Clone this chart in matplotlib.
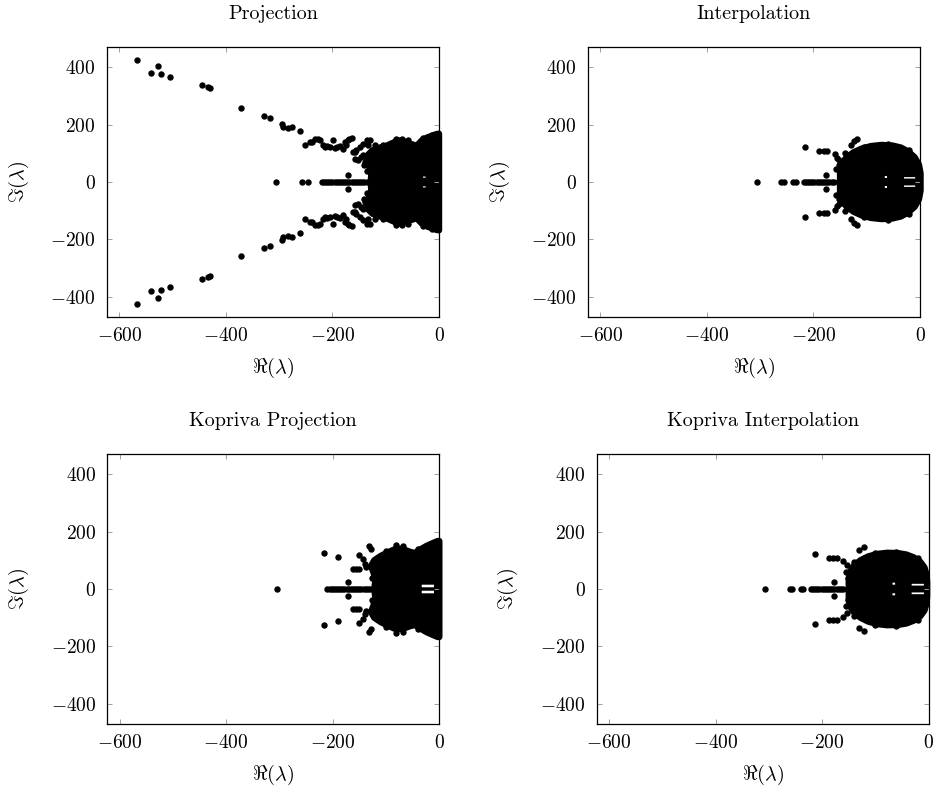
import numpy as np
import matplotlib.pyplot as plt
from matplotlib.path import Path
from matplotlib.patches import PathPatch

plt.rcParams['font.family'] = 'cmr10'
plt.rcParams['mathtext.fontset'] = 'cm'
plt.rcParams['axes.formatter.use_mathtext'] = True

# eigenvalues (upper half plane, conjugates are mirrored)
# --- Projection
proj_re = [-567, -540, -528, -521, -504, -444, -433, -429, -372, -329, -317,
           -295, -292, -283, -275, -261,
           -252, -243, -238, -233, -227, -224, -218, -214, -211, -205, -199,
           -195, -192, -186, -180, -177, -174, -171, -168, -164, -161, -158,
           -158, -155, -152, -149, -146, -143, -142, -139, -136, -133, -130,
           -170, -120, -105, -80, -70, -58, -30, -14, -135, -140]
proj_im = [424, 380, 403, 376, 366, 336, 331, 328, 259, 231, 223,
           201, 192, 188, 190, 177,
           130, 140, 140, 148, 151, 145, 128, 122, 124, 122, 145,
           118, 122, 124, 115, 140, 128, 145, 151, 153, 105, 104,
           81, 110, 76, 122, 87, 93, 134, 70, 145, 128, 145,
           23, 128, 130, 150, 148, 146, 152, 165, 40, 60]
proj_axis = [-305, -258, -245, -220, -216, -212, -208, -204, -200, -196, -192,
             -188, -184, -180, -176, -172, -168, -164, -160, -156, -152, -148,
             -144, -140, -136]
proj_core_re = [-128, -127, -130, -136, -133, -125, -115, -100, -88, -76, -64,
                -52, -42, -32, -22, -12, -4, 0, 0]
proj_core_im = [0, 30, 50, 70, 95, 110, 118, 125, 135, 145, 140,
                132, 126, 145, 155, 162, 167, 168, 0]
proj_gaps = [(-30, -25, 15, 19)]          # empty spots inside the cloud

# --- Interpolation
interp_re = [-215, -189, -180, -174, -160, -157, -152, -176, -130, -124, -119,
             -155, -152, -140, -105, -60, -20]
interp_im = [122, 107, 107, 107, 99, 46, 75, 24, 130, 143, 150,
             85, 60, 100, 122, 132, 110]
interp_axis = [-306, -261, -255, -239, -233, -218, -214, -210, -206, -202, -198,
               -194, -190, -186, -182, -178, -174, -170, -166, -162]
interp_core_re = [-150, -150, -147, -138, -125, -110, -92, -72, -52, -36, -22,
                  -10, -2, 1, 1]
interp_core_im = [0, 40, 65, 85, 103, 116, 125, 129, 127, 120, 106,
                  86, 60, 30, 0]
interp_gaps = [(-30, -9, 12, 17), (-66, -62, 14, 21)]

# --- Kopriva Projection
kproj_re = [-216, -191, -150, -144, -132, -128, -162, -156, -150, -172, -137,
            -81, -68, -140, -126, -125, -100, -40]
kproj_im = [124, 110, 119, 103, 148, 138, 68, 69, 70, 25, 75,
            153, 150, 88, 40, 90, 132, 140]
kproj_axis = [-305, -210, -206, -202, -198, -194, -190, -186, -182, -178, -174,
              -170, -166, -162, -158, -154, -150, -146, -142, -138, -134, -130]
kproj_core_re = [-122, -120, -123, -128, -122, -110, -96, -84, -70, -56, -46,
                 -36, -24, -12, -3, 0, 0]
kproj_core_im = [0, 30, 55, 80, 100, 115, 128, 138, 140, 130, 125,
                 137, 150, 160, 167, 167, 0]
kproj_gaps = [(-33, -10, 6, 15)]

# --- Kopriva Interpolation
kinterp_re = [-214, -188, -179, -173, -160, -154, -177, -130, -121,
              -155, -152, -140, -100, -62, -20]
kinterp_im = [122, 107, 107, 107, 97, 85, 24, 136, 145,
              60, 40, 95, 126, 130, 108]
kinterp_axis = [-307, -260, -256, -240, -235, -221, -217, -213, -209, -205, -201,
                -197, -193, -189, -185, -181, -177, -173, -169, -165, -161]
kinterp_core_re = [-150, -150, -147, -140, -128, -114, -97, -78, -58, -42, -28,
                   -16, -8, -4, -3, -3]
kinterp_core_im = [0, 35, 62, 82, 100, 113, 122, 126, 125, 120, 110,
                   95, 75, 50, 25, 0]
kinterp_gaps = [(-32, -6, 12, 18), (-68, -63, 15, 22)]

titles = ["Projection", "Interpolation", "Kopriva Projection", "Kopriva Interpolation"]
MS = 4.6


def draw(ax, title, re, im, axis_re, core_re, core_im, gaps):
    cre = np.array(core_re, float)
    cim = np.array(core_im, float)
    ox = np.r_[cre, cre[::-1]]
    oy = np.r_[cim, -cim[::-1]]
    # outline of the dense cloud (stroke = marker radius)
    ax.fill(ox, oy, facecolor='none', edgecolor='black', linewidth=MS,
            joinstyle='round', clip_on=False)
    verts = list(zip(ox, oy)) + [(ox[0], oy[0])]
    codes = [Path.MOVETO] + [Path.LINETO] * (len(ox) - 1) + [Path.CLOSEPOLY]
    for x0, x1, y0, y1 in gaps:
        for ya, yb in ((y0, y1), (-y1, -y0)):
            verts += [(x0, ya), (x1, ya), (x1, yb), (x0, yb), (x0, ya)]
            codes += [Path.MOVETO, Path.LINETO, Path.LINETO, Path.LINETO, Path.CLOSEPOLY]
    ax.add_patch(PathPatch(Path(verts, codes), facecolor='black', edgecolor='none',
                           clip_on=False))
    re = np.array(re, float)
    im = np.array(im, float)
    ax.plot(np.r_[re, re], np.r_[im, -im], 'o', ms=MS, color='black', mew=0,
            clip_on=False)
    ax.plot(axis_re, np.zeros(len(axis_re)), 'o', ms=MS, color='black', mew=0,
            clip_on=False)
    ax.set_xlim(-623, 0)
    ax.set_ylim(-470, 470)
    ax.set_xticks([-600, -400, -200, 0])
    ax.set_yticks([-400, -200, 0, 200, 400])
    ax.tick_params(direction='in', top=True, right=True, length=3.6, width=0.7,
                   color='#a0a0a0', labelsize=14)
    ax.tick_params(axis='x', pad=7)
    ax.tick_params(axis='y', pad=8)
    for s in ax.spines.values():
        s.set_linewidth(0.9)
    ax.set_title(title, fontsize=14.5, pad=20.5)
    ax.set_xlabel(r'$\Re(\lambda)$', fontsize=14.5)
    ax.set_ylabel(r'$\Im(\lambda)$', fontsize=14.5)
    ax.xaxis.set_label_coords(0.5, -0.143)
    ax.yaxis.set_label_coords(-0.23, 0.5)


W, H = 934, 790
fig = plt.figure(figsize=(W / 100, H / 100), dpi=100)
boxes = [(107, 47), (588, 47), (107.3, 454), (596.7, 454)]
aw, ah = 332, 270
axs = [fig.add_axes([x / W, 1 - (y + ah) / H, aw / W, ah / H]) for x, y in boxes]

draw(axs[0], titles[0], proj_re, proj_im, proj_axis, proj_core_re, proj_core_im, proj_gaps)
draw(axs[1], titles[1], interp_re, interp_im, interp_axis, interp_core_re, interp_core_im, interp_gaps)
draw(axs[2], titles[2], kproj_re, kproj_im, kproj_axis, kproj_core_re, kproj_core_im, kproj_gaps)
draw(axs[3], titles[3], kinterp_re, kinterp_im, kinterp_axis, kinterp_core_re, kinterp_core_im, kinterp_gaps)

fig.savefig("out.png", dpi=100)
